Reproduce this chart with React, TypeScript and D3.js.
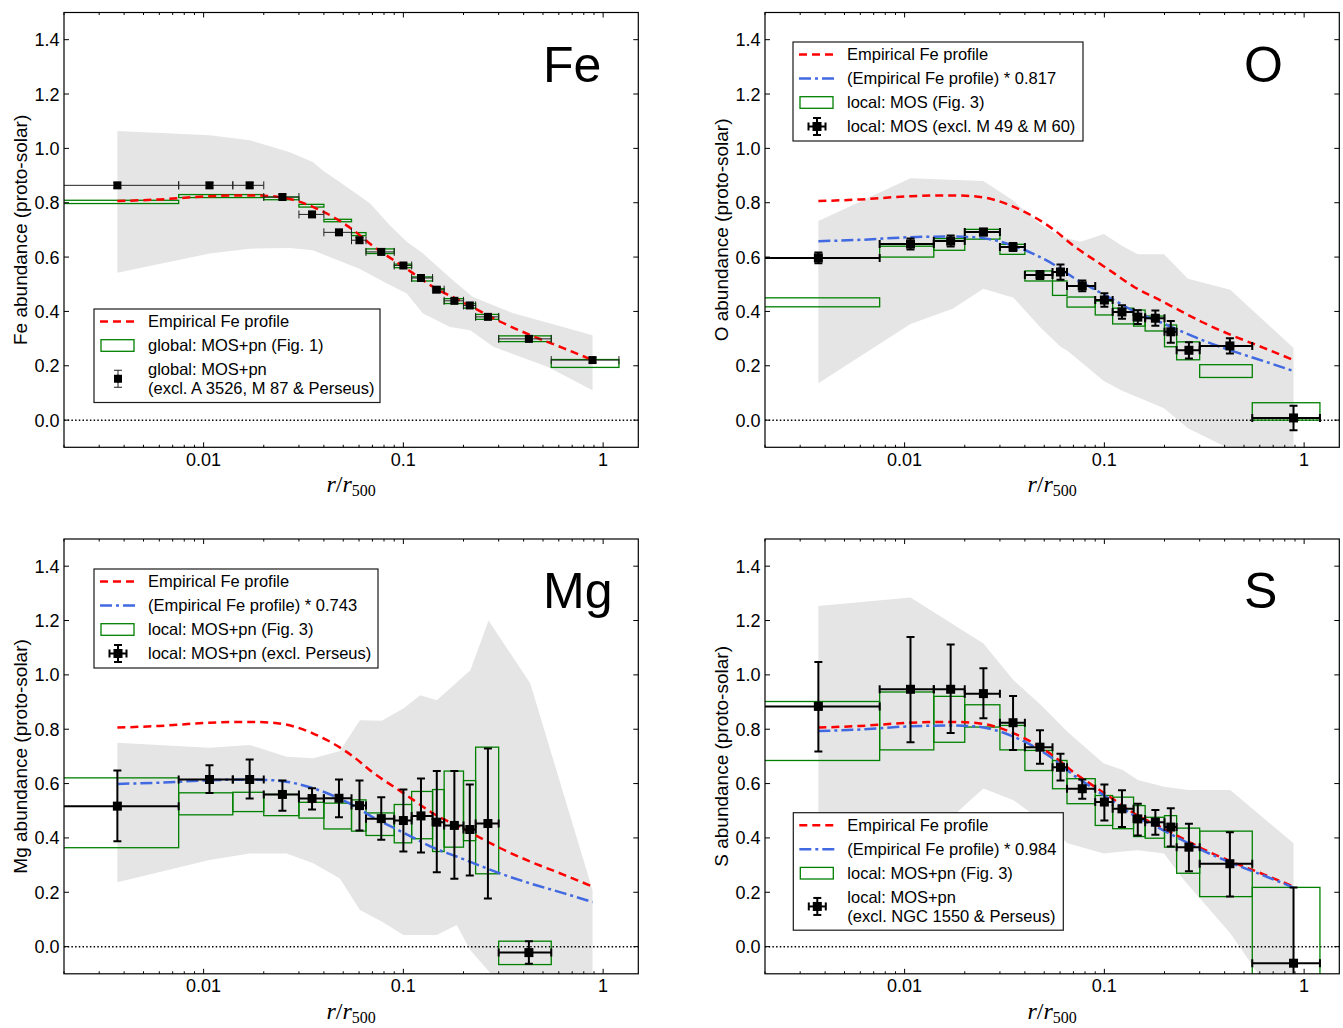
import React from "react";
import * as d3 from "d3";

const W = 1343;
const H = 1028;
const PW = 574.3;
const PH = 434.8;
const FONT = "'Liberation Sans', Arial, Helvetica, sans-serif";
const SERIF = "'Liberation Serif', 'DejaVu Serif', serif";

const xDomain = [0.002, 1.5];
const yDomain = [-0.1, 1.5];
const yTicks = [0, 0.2, 0.4, 0.6, 0.8, 1.0, 1.2, 1.4];
const xTicks = [0.01, 0.1, 1];
const xTickLabels = ["0.01", "0.1", "1"];

// radial bins (r/r500), shared by all panels
const binLo = [0, 0.0075, 0.014, 0.02, 0.03, 0.04, 0.055, 0.065, 0.09, 0.11, 0.14, 0.16, 0.2, 0.23, 0.3, 0.55];
const binHi = [0.0075, 0.014, 0.02, 0.03, 0.04, 0.055, 0.065, 0.09, 0.11, 0.14, 0.16, 0.2, 0.23, 0.3, 0.55, 1.2];
const binMid = [0.0037, 0.0107, 0.017, 0.0248, 0.0349, 0.0476, 0.0603, 0.0775, 0.1, 0.1225, 0.147, 0.18, 0.215, 0.265, 0.425, 0.885];

// empirical Fe profile
const profX = [0.0037, 0.006, 0.0107, 0.017, 0.0222, 0.028, 0.0352, 0.0444, 0.056, 0.0705, 0.0888, 0.112, 0.141, 0.186, 0.243, 0.306, 0.432, 0.632, 0.885];
const profY = [0.806, 0.812, 0.824, 0.827, 0.824, 0.811, 0.785, 0.748, 0.7, 0.64, 0.59, 0.54, 0.49, 0.445, 0.4, 0.362, 0.313, 0.265, 0.221];

// ---- Fe ----
const feY = [0.864, 0.864, 0.864, 0.821, 0.757, 0.691, 0.662, 0.619, 0.569, 0.523, 0.48, 0.439, 0.422, 0.38, 0.299, 0.221];
const feErr = [0.01, 0.01, 0.01, 0.01, 0.01, 0.01, 0.01, 0.01, 0.008, 0.008, 0.008, 0.008, 0.008, 0.008, 0.008, 0.01];
const feBoxX0 = [0, 0.0075, 0.02, 0.03, 0.04, 0.055, 0.065, 0.09, 0.11, 0.14, 0.16, 0.2, 0.23, 0.3, 0.55];
const feBoxX1 = [0.0075, 0.02, 0.03, 0.04, 0.055, 0.065, 0.09, 0.11, 0.14, 0.16, 0.2, 0.23, 0.3, 0.55, 1.2];
const feBoxLo = [0.797, 0.819, 0.811, 0.784, 0.73, 0.679, 0.613, 0.561, 0.512, 0.474, 0.429, 0.412, 0.371, 0.289, 0.194];
const feBoxHi = [0.809, 0.83, 0.821, 0.794, 0.739, 0.69, 0.63, 0.574, 0.527, 0.484, 0.447, 0.429, 0.389, 0.31, 0.223];
const feBandUpX = [0.0037, 0.0107, 0.017, 0.027, 0.0352, 0.0395, 0.048, 0.068, 0.0855, 0.104, 0.125, 0.177, 0.223, 0.355, 0.63, 0.885];
const feBandUpY = [1.064, 1.048, 1.03, 0.986, 0.95, 0.919, 0.876, 0.798, 0.717, 0.656, 0.614, 0.515, 0.453, 0.393, 0.343, 0.312];
const feBandLoX = [0.0037, 0.0107, 0.017, 0.027, 0.0352, 0.0606, 0.0828, 0.104, 0.125, 0.171, 0.216, 0.282, 0.526, 0.885];
const feBandLoY = [0.542, 0.613, 0.631, 0.633, 0.625, 0.556, 0.503, 0.466, 0.393, 0.343, 0.331, 0.27, 0.196, 0.11];

// ---- O ----
const oY = [0.597, 0.648, 0.659, 0.692, 0.637, 0.534, 0.545, 0.494, 0.442, 0.398, 0.379, 0.375, 0.325, 0.257, 0.273, 0.008];
const oErr = [0.02, 0.02, 0.02, 0.012, 0.015, 0.015, 0.028, 0.02, 0.025, 0.025, 0.025, 0.028, 0.04, 0.03, 0.028, 0.045];
const oBoxLo = [0.417, 0.6, 0.625, 0.666, 0.61, 0.512, 0.459, 0.416, 0.387, 0.354, 0.346, 0.328, 0.27, 0.222, 0.157, 0.0];
const oBoxHi = [0.45, 0.64, 0.668, 0.702, 0.647, 0.549, 0.512, 0.453, 0.438, 0.412, 0.405, 0.383, 0.35, 0.288, 0.204, 0.064];
const oBandUpX = [0.0037, 0.0107, 0.0248, 0.0351, 0.048, 0.0604, 0.0762, 0.0994, 0.1236, 0.147, 0.199, 0.262, 0.427, 0.885];
const oBandUpY = [0.733, 0.89, 0.88, 0.807, 0.72, 0.675, 0.656, 0.685, 0.64, 0.61, 0.61, 0.52, 0.48, 0.265];
const oBandLoX = [0.0037, 0.0107, 0.0174, 0.0248, 0.0351, 0.048, 0.0604, 0.0655, 0.0994, 0.1236, 0.199, 0.262, 0.427, 0.885];
const oBandLoY = [0.136, 0.354, 0.41, 0.483, 0.45, 0.34, 0.27, 0.254, 0.144, 0.107, 0.044, -0.03, -0.107, -0.3];
const oFactor = 0.817;

// ---- Mg ----
const mgY = [0.517, 0.615, 0.615, 0.56, 0.545, 0.546, 0.519, 0.471, 0.464, 0.481, 0.458, 0.446, 0.431, 0.453, -0.022];
const mgLo = [0.388, 0.565, 0.545, 0.5, 0.505, 0.476, 0.427, 0.393, 0.35, 0.346, 0.274, 0.25, 0.262, 0.177, -0.063];
const mgHi = [0.648, 0.667, 0.689, 0.611, 0.583, 0.615, 0.611, 0.55, 0.578, 0.619, 0.646, 0.646, 0.597, 0.729, 0.02];
const mgBoxLo = [0.364, 0.485, 0.497, 0.482, 0.473, 0.433, 0.425, 0.409, 0.382, 0.397, 0.35, 0.366, 0.39, 0.268, -0.066];
const mgBoxHi = [0.621, 0.566, 0.568, 0.56, 0.531, 0.528, 0.54, 0.492, 0.523, 0.571, 0.578, 0.646, 0.611, 0.734, 0.02];
const mgBandUpX = [0.0037, 0.0107, 0.017, 0.026, 0.0354, 0.0481, 0.0606, 0.0779, 0.1, 0.1214, 0.147, 0.2164, 0.267, 0.432, 0.885];
const mgBandUpY = [0.75, 0.732, 0.742, 0.699, 0.693, 0.72, 0.833, 0.831, 0.876, 0.925, 0.907, 1.017, 1.2, 0.968, 0.208];
const mgBandLoX = [0.0037, 0.0107, 0.017, 0.026, 0.0354, 0.0481, 0.0606, 0.0779, 0.1, 0.147, 0.185, 0.216, 0.267, 0.432, 0.885];
const mgBandLoY = [0.237, 0.319, 0.343, 0.343, 0.307, 0.251, 0.135, 0.092, 0.043, 0.043, 0.08, -0.012, -0.09, -0.3, -0.3];
const mgFactor = 0.743;

// ---- S ----
const sY = [0.884, 0.947, 0.947, 0.931, 0.824, 0.734, 0.66, 0.581, 0.532, 0.507, 0.47, 0.458, 0.44, 0.366, 0.305, -0.061];
const sLo = [0.718, 0.752, 0.786, 0.84, 0.724, 0.673, 0.611, 0.544, 0.464, 0.44, 0.409, 0.412, 0.368, 0.277, 0.184, -0.4];
const sHi = [1.047, 1.139, 1.112, 1.024, 0.922, 0.796, 0.71, 0.615, 0.597, 0.575, 0.526, 0.503, 0.509, 0.452, 0.421, 0.218];
const sBoxLo = [0.685, 0.724, 0.752, 0.808, 0.724, 0.648, 0.581, 0.526, 0.446, 0.434, 0.405, 0.399, 0.366, 0.27, 0.184, -0.4];
const sBoxHi = [0.902, 0.937, 0.921, 0.89, 0.814, 0.722, 0.685, 0.618, 0.556, 0.55, 0.519, 0.476, 0.482, 0.436, 0.425, 0.218];
const sBandUpX = [0.0037, 0.0107, 0.0248, 0.0351, 0.048, 0.0655, 0.0994, 0.1236, 0.147, 0.199, 0.262, 0.427, 0.885];
const sBandUpY = [1.253, 1.285, 1.115, 0.98, 0.89, 0.79, 0.674, 0.65, 0.613, 0.588, 0.576, 0.576, 0.38];
const sBandLoX = [0.0037, 0.0107, 0.0174, 0.0248, 0.0351, 0.048, 0.0655, 0.0994, 0.1236, 0.147, 0.199, 0.25, 0.427, 0.542, 0.885];
const sBandLoY = [0.35, 0.45, 0.48, 0.582, 0.539, 0.466, 0.38, 0.343, 0.35, 0.355, 0.343, 0.245, 0.049, -0.061, -0.3];
const sFactor = 0.984;

type Item = { kind: "red" | "blue" | "box" | "pt"; lines: string[] };

const panels = [
  {
    key: "Fe", left: 64, top: 12.5, title: "Fe", ylabel: "Fe abundance (proto-solar)",
    y: feY, lo: feY.map((v, i) => v - feErr[i]), hi: feY.map((v, i) => v + feErr[i]),
    boxX0: feBoxX0, boxX1: feBoxX1, boxLo: feBoxLo, boxHi: feBoxHi,
    upX: feBandUpX, upY: feBandUpY, loX: feBandLoX, loY: feBandLoY,
    factor: null as number | null, thin: true,
    legend: { x: 30, y: 296.5, w: 286, items: [
      { kind: "red", lines: ["Empirical Fe profile"] },
      { kind: "box", lines: ["global: MOS+pn (Fig. 1)"] },
      { kind: "pt", lines: ["global: MOS+pn", "(excl. A 3526, M 87 & Perseus)"] },
    ] as Item[] },
  },
  {
    key: "O", left: 765, top: 12.5, title: "O", ylabel: "O abundance (proto-solar)",
    y: oY, lo: oY.map((v, i) => v - oErr[i]), hi: oY.map((v, i) => v + oErr[i]),
    boxX0: binLo, boxX1: binHi, boxLo: oBoxLo, boxHi: oBoxHi,
    upX: oBandUpX, upY: oBandUpY, loX: oBandLoX, loY: oBandLoY,
    factor: oFactor, thin: false,
    legend: { x: 28, y: 29.5, w: 290, items: [
      { kind: "red", lines: ["Empirical Fe profile"] },
      { kind: "blue", lines: [`(Empirical Fe profile) * ${oFactor}`] },
      { kind: "box", lines: ["local: MOS (Fig. 3)"] },
      { kind: "pt", lines: ["local: MOS (excl. M 49 & M 60)"] },
    ] as Item[] },
  },
  {
    key: "Mg", left: 64, top: 539, title: "Mg", ylabel: "Mg abundance (proto-solar)",
    y: mgY, lo: mgLo, hi: mgHi,
    boxX0: binLo, boxX1: binHi, boxLo: mgBoxLo, boxHi: mgBoxHi,
    upX: mgBandUpX, upY: mgBandUpY, loX: mgBandLoX, loY: mgBandLoY,
    factor: mgFactor, thin: false,
    legend: { x: 30, y: 30, w: 284, items: [
      { kind: "red", lines: ["Empirical Fe profile"] },
      { kind: "blue", lines: [`(Empirical Fe profile) * ${mgFactor}`] },
      { kind: "box", lines: ["local: MOS+pn (Fig. 3)"] },
      { kind: "pt", lines: ["local: MOS+pn (excl. Perseus)"] },
    ] as Item[] },
  },
  {
    key: "S", left: 765, top: 539, title: "S", ylabel: "S abundance (proto-solar)",
    y: sY, lo: sLo, hi: sHi,
    boxX0: binLo, boxX1: binHi, boxLo: sBoxLo, boxHi: sBoxHi,
    upX: sBandUpX, upY: sBandUpY, loX: sBandLoX, loY: sBandLoY,
    factor: sFactor, thin: false,
    legend: { x: 28.3, y: 273.7, w: 270, items: [
      { kind: "red", lines: ["Empirical Fe profile"] },
      { kind: "blue", lines: [`(Empirical Fe profile) * ${sFactor}`] },
      { kind: "box", lines: ["local: MOS+pn (Fig. 3)"] },
      { kind: "pt", lines: ["local: MOS+pn", "(excl. NGC 1550 & Perseus)"] },
    ] as Item[] },
  },
];

const RED_DASH = "8,5";
const BLUE_DASH = "12,4,3,4";

function ErrPoint({ cx, cy, x0, x1, y0, y1, thin }: any) {
  const lw = thin ? 1 : 2;
  const cap = 4;
  const ms = thin ? 8 : 9;
  const col = thin ? "#222" : "#000";
  return (
    <g stroke={col} strokeWidth={lw}>
      <line x1={x0} x2={x1} y1={cy} y2={cy} />
      <line x1={cx} x2={cx} y1={y0} y2={y1} />
      <line x1={x0} x2={x0} y1={cy - cap} y2={cy + cap} />
      <line x1={x1} x2={x1} y1={cy - cap} y2={cy + cap} />
      <line x1={cx - cap} x2={cx + cap} y1={y0} y2={y0} />
      <line x1={cx - cap} x2={cx + cap} y1={y1} y2={y1} />
      <rect x={cx - ms / 2} y={cy - ms / 2} width={ms} height={ms} fill="#000" stroke="none" />
    </g>
  );
}

function Panel({ p }: { p: (typeof panels)[number] }) {
  const { left, top } = p;
  const x = d3.scaleLog().domain(xDomain).range([left, left + PW]);
  const y = d3.scaleLinear().domain(yDomain).range([top + PH, top]);
  const fx = (v: number) => x(Math.max(v, 1e-4));
  const clipId = `clip-${p.key}`;

  const curve = d3
    .line<[number, number]>()
    .x((d) => x(d[0]))
    .y((d) => y(d[1]))
    .curve(d3.curveMonotoneX);
  const redPath = curve(profX.map((v, i) => [v, profY[i]]));
  const bluePath = p.factor
    ? curve(profX.map((v, i) => [v, profY[i] * (p.factor as number)]))
    : null;

  const band = d3.line<[number, number]>().x((d) => x(d[0])).y((d) => y(d[1]));
  const bandPts: [number, number][] = [
    ...p.upX.map((v, i) => [v, p.upY[i]] as [number, number]),
    ...p.loX.map((v, i) => [v, p.loY[i]] as [number, number]).reverse(),
  ];
  const bandPath = band(bandPts) + "Z";

  const minor = x.ticks().filter((t) => Math.abs(Math.log10(t) - Math.round(Math.log10(t))) > 1e-6);

  const lg = p.legend;
  const lgx = left + lg.x;
  const lgy = top + lg.y;
  let rowY = 12.5;
  const rows = lg.items.map((it) => {
    const c = rowY;
    const lineYs = it.lines.map((_, k) => c + k * 18.5);
    const mid = (lineYs[0] + lineYs[lineYs.length - 1]) / 2;
    rowY = lineYs[lineYs.length - 1] + 24;
    return { it, lineYs, mid };
  });
  const lgH = rowY - 24 + 14.5;

  return (
    <g>
      <defs>
        <clipPath id={clipId}>
          <rect x={left} y={top} width={PW} height={PH} />
        </clipPath>
      </defs>
      <g clipPath={`url(#${clipId})`}>
        <path d={bandPath} fill="#e5e5e5" stroke="none" />
        <line x1={left} x2={left + PW} y1={y(0)} y2={y(0)} stroke="#000" strokeWidth={1.5} strokeDasharray="1.5,2.2" />
        {p.boxLo.map((b, i) => (
          <rect
            key={i}
            x={fx(p.boxX0[i])}
            y={y(p.boxHi[i])}
            width={fx(p.boxX1[i]) - fx(p.boxX0[i])}
            height={y(p.boxLo[i]) - y(p.boxHi[i])}
            fill="none"
            stroke="#008000"
            strokeWidth={1.3}
          />
        ))}
        <path d={redPath || ""} fill="none" stroke="#ff0000" strokeWidth={2.5} strokeDasharray={RED_DASH} />
        {bluePath && (
          <path d={bluePath} fill="none" stroke="#4169e1" strokeWidth={2.5} strokeDasharray={BLUE_DASH} />
        )}
        {p.y.map((v, i) => (
          <ErrPoint
            key={i}
            cx={x(binMid[i])}
            cy={y(v)}
            x0={fx(binLo[i])}
            x1={fx(binHi[i])}
            y0={y(p.lo[i])}
            y1={y(p.hi[i])}
            thin={p.thin}
          />
        ))}
      </g>

      {/* frame */}
      <rect x={left} y={top} width={PW} height={PH} fill="none" stroke="#000" strokeWidth={1.2} />
      {/* y ticks */}
      {yTicks.map((t) => (
        <g key={t}>
          <line x1={left} x2={left + 5} y1={y(t)} y2={y(t)} stroke="#000" strokeWidth={1} />
          <line x1={left + PW - 5} x2={left + PW} y1={y(t)} y2={y(t)} stroke="#000" strokeWidth={1} />
          <text x={left - 4.5} y={y(t) + 6.5} textAnchor="end" fontFamily={FONT} fontSize={18}>
            {t.toFixed(1)}
          </text>
        </g>
      ))}
      {/* x ticks */}
      {xTicks.map((t, i) => (
        <g key={t}>
          <line x1={x(t)} x2={x(t)} y1={top + PH} y2={top + PH - 5} stroke="#000" strokeWidth={1} />
          <line x1={x(t)} x2={x(t)} y1={top} y2={top + 5} stroke="#000" strokeWidth={1} />
          <text x={x(t)} y={top + PH + 18.5} textAnchor="middle" fontFamily={FONT} fontSize={18}>
            {xTickLabels[i]}
          </text>
        </g>
      ))}
      {minor.map((t) => (
        <g key={`m${t}`}>
          <line x1={x(t)} x2={x(t)} y1={top + PH} y2={top + PH - 2.5} stroke="#000" strokeWidth={1} />
          <line x1={x(t)} x2={x(t)} y1={top} y2={top + 2.5} stroke="#000" strokeWidth={1} />
        </g>
      ))}
      {/* axis labels */}
      <text
        transform={`translate(${left - 37},${top + PH / 2}) rotate(-90)`}
        textAnchor="middle"
        fontFamily={FONT}
        fontSize={19}
      >
        {p.ylabel}
      </text>
      <text x={left + PW / 2} y={top + PH + 45} textAnchor="middle" fontFamily={SERIF} fontSize={24}>
        <tspan fontStyle="italic">r</tspan>
        <tspan>/</tspan>
        <tspan fontStyle="italic">r</tspan>
        <tspan fontSize={16} dy={4}>500</tspan>
      </text>
      {/* element title */}
      <text x={left + 479} y={top + 69} fontFamily={FONT} fontSize={50}>
        {p.title}
      </text>

      {/* legend */}
      <g>
        <rect x={lgx} y={lgy} width={lg.w} height={lgH} fill="#fff" stroke="#1a1a1a" strokeWidth={1.2} />
        {rows.map(({ it, lineYs, mid }, k) => (
          <g key={k}>
            {it.kind === "red" && (
              <line x1={lgx + 6} x2={lgx + 41} y1={lgy + mid} y2={lgy + mid} stroke="#ff0000" strokeWidth={2.5} strokeDasharray={RED_DASH} />
            )}
            {it.kind === "blue" && (
              <line x1={lgx + 6} x2={lgx + 41} y1={lgy + mid} y2={lgy + mid} stroke="#4169e1" strokeWidth={2.5} strokeDasharray={BLUE_DASH} />
            )}
            {it.kind === "box" && (
              <rect x={lgx + 7} y={lgy + mid - 5.8} width={33} height={11.6} fill="none" stroke="#008000" strokeWidth={1.3} />
            )}
            {it.kind === "pt" && (
              <ErrPoint
                cx={lgx + 24}
                cy={lgy + mid}
                x0={lgx + 24 - (p.thin ? 0 : 8.5)}
                x1={lgx + 24 + (p.thin ? 0 : 8.5)}
                y0={lgy + mid - 8.5}
                y1={lgy + mid + 8.5}
                thin={p.thin}
              />
            )}
            {lineYs.map((ly, j) => (
              <text key={j} x={lgx + 54} y={lgy + ly + 5.8} fontFamily={FONT} fontSize={16.5}>
                {it.lines[j]}
              </text>
            ))}
          </g>
        ))}
      </g>
    </g>
  );
}

export default function App() {
  return (
    <svg
      width={W}
      height={H}
      viewBox={`0 0 ${W} ${H}`}
      style={{ position: "absolute", left: 0, top: 0, background: "#fff" }}
    >
      <rect x={0} y={0} width={W} height={H} fill="#fff" />
      {panels.map((p) => (
        <Panel key={p.key} p={p} />
      ))}
    </svg>
  );
}
